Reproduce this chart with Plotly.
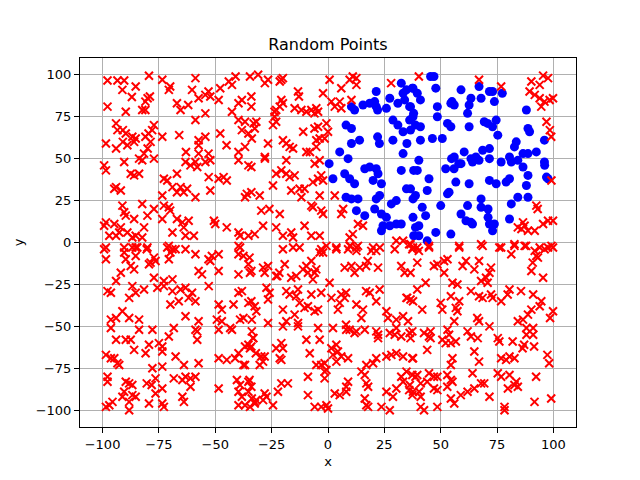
import plotly.graph_objects as go

# Points inside the circle (blue dots)
blue_pts = [
    (21.4,90),(15.5,82),(18.5,83),(20.7,84),(22,79),(21.4,81),(10.4,81),(11.8,79),(25.9,80),(27.4,86),
    (32.5,95),(34.8,91),(37.7,92),(33.3,89),(31,83),(34,85),(36.2,81),(8,70),(10.4,68),(5.2,54),(8.9,50),
    (14,61),(10.4,59),(22,63),(22.8,59),(28.8,61),(28.8,73),(31,70),(33.3,66),(33.3,53),(36.2,73),(37.7,75),
    (45.5,99),(47,99),(37.4,92),(39.6,89),(41,85),(36.6,81),(38,77),(47.8,92),(48.5,81),(48.5,75),(59,91),
    (54.5,83),(56,82),(55,84),(63.4,86),(62.6,82),(67,93),(67.9,86),(71.6,90),(73.8,84),(73,90),(77.3,89),
    (61.9,77),(53,71),(54.5,69),(62.6,69),(69.3,72),(70.8,71),(74.6,73),(73,69),(88,79),(88.7,68),(89.4,66),
    (96,61),(36.6,67),(38.8,70),(41,69),(41,61),(46.3,62),(50.7,62),(75.3,64),(83.5,60),(82.7,57),(60.4,54),
    (56,51),(58,47),(68.6,55),(71.6,56),(65.6,51),(63.4,50),(80.5,51),(86.5,53),(88.7,53),(92.4,54),(96,48),
    (40.3,49),(35,59),
    (0.5,47),(2.2,38),(7.4,41),(9.6,38),(11.8,35),(8,27),(10.4,26),(13.3,26),(12.6,19),(16.3,16),(16.3,44),
    (18.5,45),(21.4,44),(22.2,41),(20,37),(23.7,35),(22.9,28),(21.4,26),(20.7,20),(23.7,17),(25.9,15),(28.1,23),
    (27.4,10),(30.3,11),(32.5,11),(23.7,7),(24.4,10),(30.3,25),(32.5,43),(34.8,32),(37.7,26),(37.7,15),
    (39.6,43),(38,43),(44.8,38),(36.6,32),(38.8,28),(44,31),(50,22),(41.8,21),(43.3,16),(40.3,10),(38.8,9),
    (40.3,4),(44,1),(47.8,6),(38,4),(52.2,44),(55.9,44),(59,47),(64.1,48),(67,49),(71.6,50),(54.8,50),
    (56.7,36),(62.6,35),(53.7,30),(53,29),(61.9,22),(59,17),(63.4,12),(64.1,11),(54.5,5),(61.2,13),(67.9,26),
    (67.9,21),(71,20),(71,15),(71.6,11),(73.8,11),(73,7),(71.6,37),(74.6,35),(76.8,48),(81.3,48),(84.2,49),
    (86.5,45),(88.7,40),(88,34),(80.5,38),(79,36),(84.2,27),(81.3,23),(80.5,14),(96.1,46),(96.9,39),(97.6,38),
    (88.7,27),
]

# Points outside the circle (red crosses)
red_pts = [
    # top-left
    (-97.8,96.6),(-93.4,96.6),(-90.4,96.6),(-91.2,91),(-85.3,93),(-87,86.7),(-79.4,99.4),(-80,86),(-81,84),
    (-79,87),(-82.4,79),(-81,79),(-97.8,81),(-89.7,78),(-73.5,97),(-70,93),(-70.6,91),(-67,83),(-65.4,79),
    (-62,82),(-58.8,98),(-60.3,91),(-57.4,86),(-54.4,88),(-53,90),(-52.2,87),(-54.4,77),(-58.8,73),(-48.5,85),
    (-47.8,92),(-44,96),(-42.6,94),(-41,99),(-39.7,83),(-38.2,85),(-42.6,78),(-34.6,99),(-34,87),
    (-94,71),(-93.4,67),(-91,67),(-89.7,65),(-94,56),(-91,60),(-86.8,63),(-85.3,62),(-86,60),(-89,58),(-81,63),
    (-79.6,65),(-77.2,70),(-78,67),(-78.7,60),(-80,56),(-81.6,53),(-98.5,59),(-73.5,63),(-66,64),(-57.4,61),
    (-57.4,58),(-54.4,63),(-57.4,53),(-53,53),(-63,54),(-47.8,65),(-45,58),(-39.7,73),(-36.8,72),(-38.2,67),
    (-35.3,65),(-33.8,62),(-39.7,54),(-36.8,57),
    # top-middle
    (-31,100),(-28,95),(-26.6,97),(-20.7,97),(-20,98),(-21.4,96),(-13.3,90),(-12.9,87),(-20.7,85),(-21.4,81),
    (-20,83),(-23.7,78),(-23,79),(-14.8,80),(-11.8,79),(-9.6,78),(-7.4,79),(-5.2,80),(-4.4,78),(-6,77),(-2.2,89),
    (0.7,97),(5.9,92),(5.2,84),(1.5,84),(3,81),(5.9,80),(9.6,97),(11,99),(12.6,94),(12.6,98),(10.4,85),(28,95),
    (-34,81),(-32.5,68),(-31.8,72),(-33,71),(-23.7,75),(-23,72),(-24.4,70),(-11,66),(-6,68),(-4.4,69),(-0.7,71),
    (0,66),(-1.5,62),(-20,61),(-18.5,59),(-17,57),(-15.5,56),(-26.6,59),(-9.6,54),(-8,54),(-5.2,57),(-3.7,62),
    (-5.2,61),(-28,51),(-3.7,49),
    # top-right
    (40.3,99),(67,97),(76.8,93),(90.2,96),(95.4,99.5),(97.6,98),(93.9,94),(89.4,90),(91.7,88),(93.9,86),(96,84),
    (98.3,85),(94.6,81),(99.8,86),(96.9,72),(98.4,67),(99,63),
    # upper-middle left
    (-99.3,46),(-98.5,43),(-90.4,48),(-83.8,50),(-82.4,49),(-77.2,50),(-87.5,41),(-83.8,41),(-86,40),(-94,33),
    (-94.8,32),(-91.9,31),(-72.8,38),(-71.3,37),(-67,41),(-69,33),(-65.4,33),(-62.5,32),(-64,30),(-67,30),
    (-73.5,28),(-58.8,27),(-63.2,48),(-61,46),(-58,45),(-54.4,48),(-52.2,49),(-58.8,48),(-52.9,39),(-48.5,38),
    (-46.3,39),(-44.9,37),(-52.2,31),(-39.7,49),(-35.3,46),(-36,29),(-36.8,27),(-91.2,22),(-90.4,18),(-89.7,16),
    (-86,14),(-82.4,23),(-77.2,20),(-80.1,16),(-72.8,22),(-70.6,21),(-70,19),(-73.5,14),(-98.5,12),(-99.3,10),
    (-94.8,11),(-91.9,9),(-92.6,6),(-94,4),(-97,4),(-89,6),(-86.8,3),(-85.3,4),(-81.6,9),(-82.4,3),(-67,14),
    (-64.6,12),(-61.8,13),(-64,9),(-69,6),(-63.2,4),(-59.5,4),(-50.6,13),(-50,11),(-44.9,9),(-39.7,6),(-39,4),
    (-35.3,4),(-98.5,-3),(-90.4,-3),(-85.3,-3),(-80.1,-3),(-70.6,-2),(-69,-4),(-39.7,-2),
    # upper-middle centre
    (-34,45),(-28,50),(-20.7,43),(-18.5,41),(-17,39),(-14.8,40),(-18.5,49),(-23,41),(-24.4,34),(-30.3,28),
    (-34,30),(-16.3,31),(-12.6,32),(-10.4,32),(-11.8,27),(-6.7,36),(-4.4,38),(-3,40),(-2.2,37),(-3.7,28),
    (-5.9,47),(3,28),(-29.6,19),(-26,20),(-21.4,17),(-28.8,10),(-7.4,22),(-6.7,21),(-3,19),(-2.2,17),(6.7,20),
    (5.9,17),(-23,9),(-20,4),(-16.3,6),(-15.5,3),(-10.4,10),(-7.4,4),(-3.7,4),(13.3,11),(15.5,10),(11,5),
    (9.6,3),(-32.5,5),(-0.7,-2),(3.7,-3),(9.6,-2),(12.6,-3),(20,-3),(23,-3),(30.3,1),(33.3,1),(36,-1),(37.7,-3),
    # upper-middle right
    (99.1,37),(92.4,22),(93,20),(86.5,12),(87.2,10),(85.8,8),(88.7,7),(91.7,7),(95.4,11),(97.6,13),(99.8,13),
    (84.2,9),(58.2,-2),(67.9,-1),(76,-3),(82.7,-1),(87.2,-2),(93.9,-3),(99.1,-2),(36.6,-1),(39.6,-3),(44.8,-2),
    # lower-middle left
    (-99.3,-4),(-98.5,-10),(-90.4,-6),(-89.7,-10),(-86.8,-3),(-84.6,-3),(-85.3,-8),(-80.4,-4),(-87.5,-14),
    (-86,-16),(-91.9,-18),(-94,-23),(-79.4,-13),(-77.2,-9),(-76.5,-11),(-78.7,-12),(-77.2,-21),(-71.3,-3),
    (-69.9,-6),(-70.6,-10),(-67.6,-4),(-63.2,-4),(-58.8,-7),(-57.4,-17),(-55.9,-19),(-52.2,-11),(-51.5,-8),
    (-53,-10),(-48.5,-7),(-48.5,-17),(-72.8,-23),(-69,-22),(-39.7,-7),(-37.5,-8),(-35.3,-13),(-39.7,-19),
    (-34.6,-18),(-39,-3),(-97.8,-29),(-96.3,-30),(-86.8,-26),(-85.3,-30),(-81.6,-28),(-75.7,-27),(-72.8,-26),
    (-69,-29),(-65.4,-28),(-63.2,-27),(-60.3,-30),(-61.8,-33),(-58.8,-35),(-52.9,-26),(-88.2,-33),(-69.9,-37),
    (-66.2,-35),(-48.5,-37),(-47.1,-40),(-41.9,-37),(-39.7,-30),(-38.2,-29),(-35.3,-36),(-91.2,-41),(-94,-45),
    (-96.3,-46),(-88.2,-45),(-83.8,-46),(-63.2,-44),(-57.4,-47),(-49.3,-46),(-47.1,-47),(-39,-46),(-37.5,-45),
    (-33.8,-46),(-96.3,-51),(-83.8,-52),(-77.9,-52),(-68.4,-51),(-58.8,-52),(-43.4,-51),(-33.8,-53),
    # lower-middle centre
    (-34.8,-9),(-34,-17),(-28.8,-15),(-28.1,-18),(-26.6,-14),(-23,-20),(-21.6,-18),(-22.5,-20),(-19.2,-13),
    (-20,-4),(-15.5,-3),(-12.6,-3),(-16.3,-21),(-14.1,-20),(-11.1,-16),(-9.6,-14),(-7.4,-11),(-8.9,-18),
    (-5.9,-18),(-5.2,-16),(-6.7,-22),(-3.7,-6),(-3,-4),(-2.2,-6),(0.7,-24),(3.7,-4),(8.9,-4),(10,-2),(13.3,-2),
    (12.6,-5),(19.2,-5),(21.4,-5),(7.4,-15),(10.4,-14),(11.8,-18),(16.9,-14),(17.6,-11),(22.2,-15),(14.1,-15),
    (29.6,-4),(32.5,-14),(34,-18),(-34,-35),(-32.5,-38),(-31.8,-41),(-27.3,-27),(-26.6,-34),(-25.9,-30),
    (-18.5,-29),(-17,-31),(-13.3,-28),(-14.1,-32),(-12.6,-36),(-10.4,-39),(-8.9,-38),(-5.9,-41),(-4.4,-40),
    (-7.4,-31),(-3,-30),(-20,-40),(-14.8,-43),(1.5,-33),(5.9,-31),(8,-30),(7.4,-33),(5.2,-36),(4.4,-40),
    (12.6,-37),(15.5,-40),(14.8,-45),(16.9,-29),(18.5,-30),(21.4,-35),(22.9,-28),(25.9,-41),(26.6,-45),
    (30.3,-46),(33.3,-44),(34.8,-33),(37.7,-35),(35.5,-47),(-26.6,-48),(-18.5,-47),(-13.3,-48),(-4.4,-51),
    (2.2,-51),(8,-49),(9.6,-52),(12.6,-53),(16.3,-52),(21.4,-53),(30.3,-51),(36.2,-54),
    # lower-middle right
    (36.6,-18),(39.6,-12),(40.3,-5),(37.4,-4),(44.8,-3),(47,-14),(48.5,-13),(51.5,-11),(53,-10),(51.5,-18),
    (58.2,-3),(59.7,-14),(61.2,-11),(64.9,-16),(67,-11),(67.9,-23),(70.8,-24),(70.1,-21),(71.6,-18),(72.3,-15),
    (68.6,-2),(76.8,-3),(81.3,-7),(82.7,-2),(87.9,-2),(91.7,-5),(92.4,-8),(93.1,-9),(90.8,-12),(90.2,-17),
    (95.4,-21),(96.1,-4),(97.6,-3),(99.8,-3),(43.3,-24),(39.6,-28),(36.6,-34),(35.1,-33),(41.8,-40),(50,-36),
    (50.7,-40),(54.5,-32),(55.2,-24),(57.4,-25),(56.7,-39),(57.4,-41),(58.2,-35),(56,-47),(63.4,-29),(67,-32),
    (68.6,-33),(72.3,-31),(73,-33),(66.2,-45),(67,-47),(71.6,-50),(76.8,-35),(79.7,-31),(80.5,-28),(85.6,-29),
    (91,-31),(94.6,-35),(93.9,-38),(90.2,-40),(88.7,-43),(86.5,-46),(84.2,-47),(88,-51),(91,-51),(98.5,-45),
    (99.8,-41),(37.4,-53),(45.5,-53),(53,-52),(61.9,-53),
    # bottom-left
    (-94,-58),(-89.7,-58),(-87.5,-58),(-86,-64),(-80.9,-66),(-79.4,-61),(-98.5,-67),(-96.3,-69),(-94.8,-69),
    (-93.4,-72),(-92.6,-73),(-75,-60),(-73.5,-62),(-73.5,-65),(-70.6,-56),(-67.6,-68),(-63.9,-73),(-58,-53),
    (-58,-58),(-57.4,-72),(-48.5,-52),(-42.6,-52),(-48.5,-69),(-44.9,-70),(-41.2,-69),(-39.7,-66),(-36.8,-62),
    (-35.3,-61),(-33.1,-57),(-36.8,-73),(-34.6,-63),(-97.8,-80),(-97.8,-83),(-89.7,-83),(-88.2,-84),(-86.8,-85),
    (-90.4,-89),(-91.2,-92),(-86.8,-91),(-85.3,-92),(-88.2,-95),(-95.6,-95),(-97,-97),(-98.5,-98),(-88.2,-100),
    (-80.4,-84),(-78.2,-85),(-76.5,-81),(-76.5,-90),(-73.5,-87),(-79.4,-96),(-73.5,-96),(-72.8,-98),(-68.4,-81),
    (-64.6,-82),(-63.2,-80),(-61,-81),(-58.8,-80),(-61,-86),(-64.6,-92),(-63.9,-95),(-48.5,-87),(-77.9,-75),
    (-73.5,-74),(-40.4,-82),(-39,-85),(-35.3,-83),(-39.7,-89),(-38.2,-92),(-35.3,-89),(-33.8,-93),(-39.7,-97),
    (-36.8,-97),(-34.6,-98),(-32.4,-95),(-37.5,-73),
    # bottom-centre
    (-33.3,-57),(-34,-62),(-32,-66),(-29.6,-68),(-28.8,-71),(-28.1,-68),(-30.3,-73),(-20,-50),(-13.3,-50),
    (-20.7,-60),(-23,-63),(-20,-63),(-21.4,-69),(-20.7,-70),(-9.6,-58),(-3.7,-58),(-8.1,-66),(-5.2,-73),
    (-3,-73),(-1.5,-72),(-0.7,-76),(8.1,-52),(11.8,-54),(1.5,-63),(2.2,-67),(3.7,-61),(4.4,-65),
    (3.7,-71),(8.9,-69),(5.9,-68),(22.2,-55),(22.2,-57),(27.4,-54),(29.6,-55),(32.5,-56),(28.1,-67),(30.3,-66),
    (33.3,-68),(37.7,-69),(21.4,-69),(20,-72),(17,-73),(25.9,-68),(-34.8,-82),(-34,-86),(-31.8,-94),(-28.1,-90),
    (-27.3,-92),(-32.5,-96),(-28.8,-94),(-24.4,-97),(-22.2,-89),(-20.7,-84),(-17.8,-84),(-8.9,-80),(-8.9,-91),
    (-5.9,-98),(-1.5,-77),(-1.5,-81),(-0.7,-97),(-3,-98),(0,-99),(3,-90),(5.2,-91),(8.1,-89),(8.9,-83),(8.1,-86),
    (14.8,-77),(16.3,-79),(17.8,-86),(17,-84),(16.3,-93),(17,-97),(17.8,-98),(23.7,-98),(27.4,-100),(25.9,-89),
    (28.8,-92),(30.3,-87),(33.3,-83),(32.5,-80),(34.8,-77),(36.3,-85),(37.7,-89),
    # bottom-right
    (36.6,-57),(42.6,-54),(44.8,-56),(45.5,-57),(44,-64),(37.4,-69),(50.7,-58),(52.2,-60),(54.5,-60),(56.7,-59),
    (53.7,-55),(55.2,-69),(54.5,-73),(63.4,-56),(66.4,-57),(64.9,-65),(67,-71),(75.3,-57),(76,-59),(76.8,-69),
    (79,-70),(80.5,-68),(82.7,-69),(81.9,-59),(86.3,-63),(87,-61),(91.4,-62),(97.3,-67),(98.1,-72),(88,-55),
    (91,-55),(37.4,-79),(38.8,-80),(39.6,-79),(41.1,-84),(44.8,-78),(44,-83),(47,-80),(48.5,-80),(36,-88),
    (37.4,-91),(40.4,-89),(41.1,-92),(47,-87),(48.5,-88),(52.9,-79),(54.5,-82),(52.9,-86),(55.2,-83),(64.1,-78),
    (67.9,-84),(69.3,-84),(64.9,-87),(61.9,-89),(58.9,-91),(71.6,-92),(75.3,-78),(76.8,-80),(80.5,-79),
    (79.8,-87),(82.7,-85),(84.2,-86),(83.5,-83),(92.3,-80),(91.6,-95),(99,-93),(41.1,-98),(42.6,-100),
    (48.5,-98),(54.5,-93),(56,-96),(78.3,-98),(78.3,-100),
]

title_text = "Random Points"
x_label = "x"
y_label = "y"
tick_vals = [-100, -75, -50, -25, 0, 25, 50, 75, 100]

FIG_W, FIG_H = 632, 472  # page body adds an 8px offset

fig = go.Figure()
fig.add_trace(go.Scatter(
    x=[p[0] for p in blue_pts], y=[p[1] for p in blue_pts], mode="markers",
    marker=dict(symbol="circle", size=9, color="#0000ff", line=dict(width=0)),
    showlegend=False, hoverinfo="skip"))
fig.add_trace(go.Scatter(
    x=[p[0] for p in red_pts], y=[p[1] for p in red_pts], mode="markers",
    marker=dict(symbol="x-thin", size=8, color="#ff0000", line=dict(width=2, color="#ff0000")),
    showlegend=False, hoverinfo="skip"))

axis_common = dict(
    range=[-110, 110], tickmode="array", tickvals=tick_vals,
    showgrid=True, gridcolor="#b0b0b0", gridwidth=1,
    zeroline=False, showline=True, linecolor="black", linewidth=1, mirror=True,
    ticks="outside", ticklen=5, tickwidth=1, tickcolor="black",
    tickfont=dict(family="DejaVu Sans", size=13, color="black"),
)

fig.update_layout(
    width=FIG_W, height=FIG_H,
    margin=dict(l=72, r=64, t=50, b=53, autoexpand=False),
    paper_bgcolor="white", plot_bgcolor="white",
    font=dict(family="DejaVu Sans", size=13, color="black"),
    title=dict(text=title_text, x=0.5, xref="paper", xanchor="center",
               y=1 - 36 / FIG_H, yref="container", yanchor="middle",
               font=dict(family="DejaVu Sans", size=16, color="black")),
    xaxis=dict(**axis_common, title=dict(text=x_label, standoff=6,
               font=dict(family="DejaVu Sans", size=13))),
    yaxis=dict(**axis_common, title=dict(text=y_label, standoff=9,
               font=dict(family="DejaVu Sans", size=13))),
)

fig.write_html("out.html")
